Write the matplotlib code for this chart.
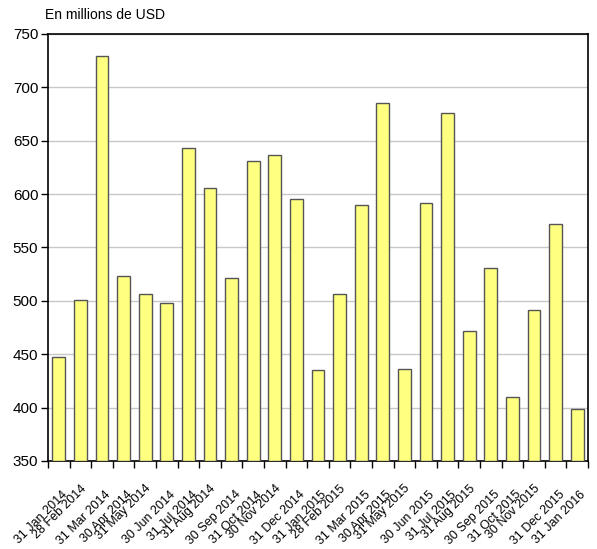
import numpy as np
import matplotlib
matplotlib.use("Agg")
import matplotlib.pyplot as plt
import matplotlib.transforms as mtrans
from matplotlib.ticker import FixedLocator

plt.rcParams['font.family'] = ['Liberation Sans', 'DejaVu Sans']

months = ['31 Jan 2014', '28 Feb 2014', '31 Mar 2014', '30 Apr 2014', '31 May 2014',
          '30 Jun 2014', '31 Jul 2014', '31 Aug 2014', '30 Sep 2014', '31 Oct 2014',
          '30 Nov 2014', '31 Dec 2014', '31 Jan 2015', '28 Feb 2015', '31 Mar 2015',
          '30 Apr 2015', '31 May 2015', '30 Jun 2015', '31 Jul 2015', '31 Aug 2015',
          '30 Sep 2015', '31 Oct 2015', '30 Nov 2015', '31 Dec 2015', '31 Jan 2016']
values = [447, 501, 729, 523, 506, 498, 643, 606, 521, 631,
          637, 595, 435, 506, 590, 685, 436, 592, 676, 472,
          531, 410, 491, 572, 399]
yticks = [350, 400, 450, 500, 550, 600, 650, 700, 750]

fig = plt.figure(figsize=(5.97, 5.49), dpi=100)
ax = fig.add_axes([48/597, 1-461/549, 540/597, 427/549])

x = np.arange(len(values))
ax.bar(x, [v - 350 for v in values], bottom=350, width=0.6,
       color='#ffff80', edgecolor='#555555', linewidth=1.0, zorder=3)

ax.set_xlim(-0.5, len(values) - 0.5)
ax.set_ylim(350, 750)
ax.set_yticks(yticks)
ax.yaxis.grid(True, color='#c8c8c8', linewidth=1.0, zorder=0)
ax.tick_params(axis='y', direction='out', length=5, width=1, labelsize=11, pad=2)

ax.set_xticks(x)
ax.set_xticklabels(months, rotation=45, ha='right', va='center',
                   rotation_mode='anchor', fontsize=9)
ax.tick_params(axis='x', which='major', length=0, pad=23)
ax.xaxis.set_minor_locator(FixedLocator(np.arange(len(values) + 1) - 0.5))
ax.tick_params(axis='x', which='minor', direction='out', length=5, width=1)

# labels are staggered in groups of three, like the source export
for i, lbl in enumerate(ax.get_xticklabels()):
    dx, dy = 7, 0
    if i % 3 == 1:
        dx, dy = 4, 6
    offset = mtrans.ScaledTranslation(dx/100, dy/100, fig.dpi_scale_trans)
    lbl.set_transform(lbl.get_transform() + offset)

for s in ax.spines.values():
    s.set_linewidth(1.2)
    s.set_color('black')

fig.text(45/597, 1-15/549, 'En millions de USD', fontsize=10, ha='left', va='center')

fig.savefig('out.png', dpi=100)
